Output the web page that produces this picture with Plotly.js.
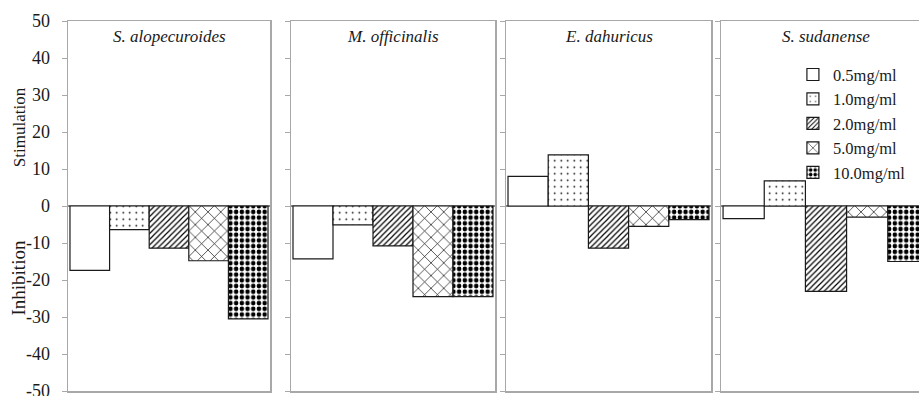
<!DOCTYPE html>
<html>
<head>
<meta charset="utf-8">
<script src="https://cdn.plot.ly/plotly-3.0.1.min.js"></script>
<style>
  html, body { margin: 0; padding: 0; background: #fff; overflow: hidden; }
  #chart { width: 935px; height: 396px; }
</style>
</head>
<body>
<div id="chart"></div>
<script>
// Allelopathic effect (%) of aqueous extracts at five concentrations
const species = ['S. alopecuroides', 'M. officinalis', 'E. dahuricus', 'S. sudanense'];
const doses = ['0.5mg/ml', '1.0mg/ml', '2.0mg/ml', '5.0mg/ml', '10.0mg/ml'];

const alopecuroides = [-17.4, -6.4, -11.4, -14.8, -30.5];
const officinalis   = [-14.3, -5.1, -10.8, -24.5, -24.5];
const dahuricus     = [8.0, 13.8, -11.4, -5.5, -3.7];
const sudanense     = [-3.4, 6.8, -23.1, -3.0, -15.0];

const yTickVals = [-50, -40, -30, -20, -10, 0, 10, 20, 30, 40, 50];
const yTickText = ['-50', '-40', '-30', '-20', '-10', '0', '10', '20', '30', '40', '50'];

const seriesBySpecies = [alopecuroides, officinalis, dahuricus, sudanense];

// fill pattern for each concentration
const patterns = [
  { shape: '' },
  { shape: '.', size: 6.5, solidity: 0.05 },
  { shape: '/', size: 4, solidity: 0.3 },
  { shape: 'x', size: 9, solidity: 0.14 },
  { shape: '.', size: 5.7, solidity: 0.5 }
];

const serif = "'Liberation Serif', 'Times New Roman', serif";
const frameColor = '#a8a8a8';
const ink = '#1a1a1a';

const traces = [];
seriesBySpecies.forEach((vals, s) => {
  const axisSuffix = s === 0 ? '' : String(s + 1);
  doses.forEach((dose, d) => {
    traces.push({
      type: 'bar',
      x: [d],
      y: [vals[d]],
      width: 1,
      name: dose,
      legendgroup: dose,
      showlegend: s === 0,
      xaxis: 'x' + axisSuffix,
      yaxis: 'y' + axisSuffix,
      marker: {
        color: '#ffffff',
        line: { color: ink, width: 1.2 },
        pattern: Object.assign({ fgcolor: '#000000', bgcolor: '#ffffff', fillmode: 'replace' }, patterns[d])
      },
      hoverinfo: 'name+y'
    });
  });
});

// pixel layout of the four panels inside the plotting area
const W = 935, plotLeft = 68, plotRight = 931;
const plotW = plotRight - plotLeft;
const panelPx = [[68, 270], [291, 495], [506, 711], [721, 931]];
const domains = panelPx.map(p => [(p[0] - plotLeft) / plotW, (p[1] - plotLeft) / plotW]);

const layout = {
  width: W,
  height: 396,
  margin: { l: plotLeft, r: W - plotRight, t: 21, b: 5 },
  paper_bgcolor: '#ffffff',
  plot_bgcolor: '#ffffff',
  barmode: 'overlay',
  showlegend: true,
  legend: {
    x: 0.84, y: 0.902, xanchor: 'left', yanchor: 'top',
    bgcolor: 'rgba(0,0,0,0)',
    font: { family: serif, size: 16.5, color: ink },
    tracegroupgap: 0
  },
  annotations: [],
  font: { family: serif, color: ink }
};

domains.forEach((dom, i) => {
  const suf = i === 0 ? '' : String(i + 1);
  layout['xaxis' + suf] = {
    domain: dom,
    range: [-0.55, 4.55],
    showticklabels: false,
    ticks: '',
    showgrid: false,
    zeroline: false,
    showline: true,
    mirror: true,
    linecolor: frameColor,
    linewidth: 1.5,
    anchor: 'y' + suf,
    fixedrange: true
  };
  layout['yaxis' + suf] = {
    range: [-50, 50],
    tickvals: yTickVals,
    ticktext: yTickText,
    showticklabels: i === 0,
    ticklabeloverflow: 'allow',
    ticks: 'outside',
    ticklen: 5,
    tickwidth: 1,
    tickcolor: frameColor,
    ticklabelstandoff: 8,
    tickfont: { family: serif, size: 18, color: ink },
    showgrid: false,
    zeroline: true,
    zerolinecolor: '#8a8a8a',
    zerolinewidth: 1.5,
    showline: true,
    mirror: true,
    linecolor: frameColor,
    linewidth: 1.5,
    anchor: 'x' + suf,
    fixedrange: true
  };
  layout.annotations.push({
    text: '<i>' + species[i] + '</i>',
    xref: 'x' + suf + ' domain',
    yref: 'paper',
    x: 0.5, y: 1,
    xanchor: 'center', yanchor: 'top',
    yshift: -4,
    showarrow: false,
    font: { family: serif, size: 17, color: ink }
  });
});

// side labels for the two halves of the scale
layout.annotations.push({
  text: 'Stimulation', xref: 'paper', yref: 'y',
  x: (19 - plotLeft) / plotW, y: 21.3,
  xanchor: 'center', yanchor: 'middle', textangle: -90, showarrow: false,
  font: { family: serif, size: 17, color: ink }
});
layout.annotations.push({
  text: 'Inhibition', xref: 'paper', yref: 'y',
  x: (19 - plotLeft) / plotW, y: -19.6,
  xanchor: 'center', yanchor: 'middle', textangle: -90, showarrow: false,
  font: { family: serif, size: 19, color: ink }
});

Plotly.newPlot('chart', traces, layout, { displayModeBar: false, staticPlot: true });
</script>
</body>
</html>
